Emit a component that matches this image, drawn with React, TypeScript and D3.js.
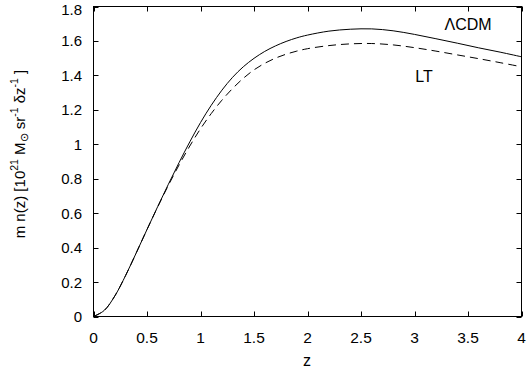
import React from "react";
import * as d3 from "d3";

const zs = [0, 0.1, 0.2, 0.3, 0.4, 0.5, 0.6, 0.7, 0.8, 0.9, 1.0, 1.1, 1.2, 1.3, 1.4, 1.5, 1.6, 1.7, 1.8, 1.9, 2.0, 2.2, 2.4, 2.6, 2.8, 3.0, 3.2, 3.4, 3.6, 3.8, 4.0];
const lcdm = [0, 0.035, 0.12, 0.238, 0.37, 0.505, 0.638, 0.768, 0.894, 1.014, 1.126, 1.226, 1.314, 1.389, 1.45, 1.499, 1.539, 1.571, 1.597, 1.618, 1.634, 1.657, 1.668, 1.67, 1.659, 1.638, 1.613, 1.587, 1.56, 1.535, 1.508];
const lt = [0, 0.035, 0.12, 0.238, 0.37, 0.505, 0.636, 0.762, 0.88, 0.99, 1.09, 1.178, 1.256, 1.324, 1.383, 1.432, 1.47, 1.5, 1.523, 1.541, 1.555, 1.573, 1.583, 1.585, 1.577, 1.561, 1.541, 1.519, 1.497, 1.474, 1.45];
const xTicks = [0, 0.5, 1, 1.5, 2, 2.5, 3, 3.5, 4];
const yTicks = [0, 0.2, 0.4, 0.6, 0.8, 1, 1.2, 1.4, 1.6, 1.8];

const W = 529, H = 373;
const left = 93.5, right = 521.5, top = 6.5, bottom = 316.5;
const font = "'Liberation Sans', Arial, Helvetica, sans-serif";

export default function App() {
  const x = d3.scaleLinear().domain([0, 4]).range([left, right]);
  const y = d3.scaleLinear().domain([0, 1.8]).range([bottom, top]);
  const line = d3.line<number>()
    .x((d, i) => x(zs[i]))
    .y(d => y(d))
    .curve(d3.curveCatmullRom);
  const tk = 5;

  return (
    <svg width={W} height={H} style={{ position: "absolute", left: 0, top: 0, background: "#fff" }} fontFamily={font}>
      <rect x={left} y={top} width={right - left} height={bottom - top} fill="none" stroke="#000" strokeWidth={1} />
      {xTicks.map(t => (
        <g key={"x" + t}>
          <line x1={Math.round(x(t)) + 0.5} x2={Math.round(x(t)) + 0.5} y1={bottom} y2={bottom - tk} stroke="#000" />
          <line x1={Math.round(x(t)) + 0.5} x2={Math.round(x(t)) + 0.5} y1={top} y2={top + tk} stroke="#000" />
          <text x={x(t)} y={343} fontSize={15.5} textAnchor="middle">{t}</text>
        </g>
      ))}
      {yTicks.map(t => (
        <g key={"y" + t}>
          <line x1={left} x2={left + tk} y1={Math.round(y(t)) + 0.5} y2={Math.round(y(t)) + 0.5} stroke="#000" />
          <line x1={right} x2={right - tk} y1={Math.round(y(t)) + 0.5} y2={Math.round(y(t)) + 0.5} stroke="#000" />
          <text x={82} y={Math.max(y(t) + 5.5, 14.5)} fontSize={15} textAnchor="end">{t === 0 ? "0" : t === 1 ? "1" : t.toFixed(1)}</text>
        </g>
      ))}
      <path d={line(lcdm) || ""} fill="none" stroke="#000" strokeWidth={1} />
      <path d={line(lt) || ""} fill="none" stroke="#000" strokeWidth={1} strokeDasharray="8,5" />
      <text x={468} y={30} fontSize={16} textAnchor="middle">ΛCDM</text>
      <text x={424} y={82} fontSize={16} textAnchor="middle">LT</text>
      <text x={307} y={366} fontSize={16} textAnchor="middle">z</text>
      <text transform="translate(25,154) rotate(-90)" fontSize={15} textAnchor="middle">
        m n(z) [10<tspan fontSize={10.5} dy={-7}>21</tspan><tspan dy={7}> M</tspan><tspan fontSize={10.5} dy={3}>⊙</tspan><tspan dy={-3}> sr</tspan><tspan fontSize={10.5} dy={-7}>-1</tspan><tspan dy={7}> δz</tspan><tspan fontSize={10.5} dy={-7}>-1</tspan><tspan dy={7}> ]</tspan>
      </text>
    </svg>
  );
}
